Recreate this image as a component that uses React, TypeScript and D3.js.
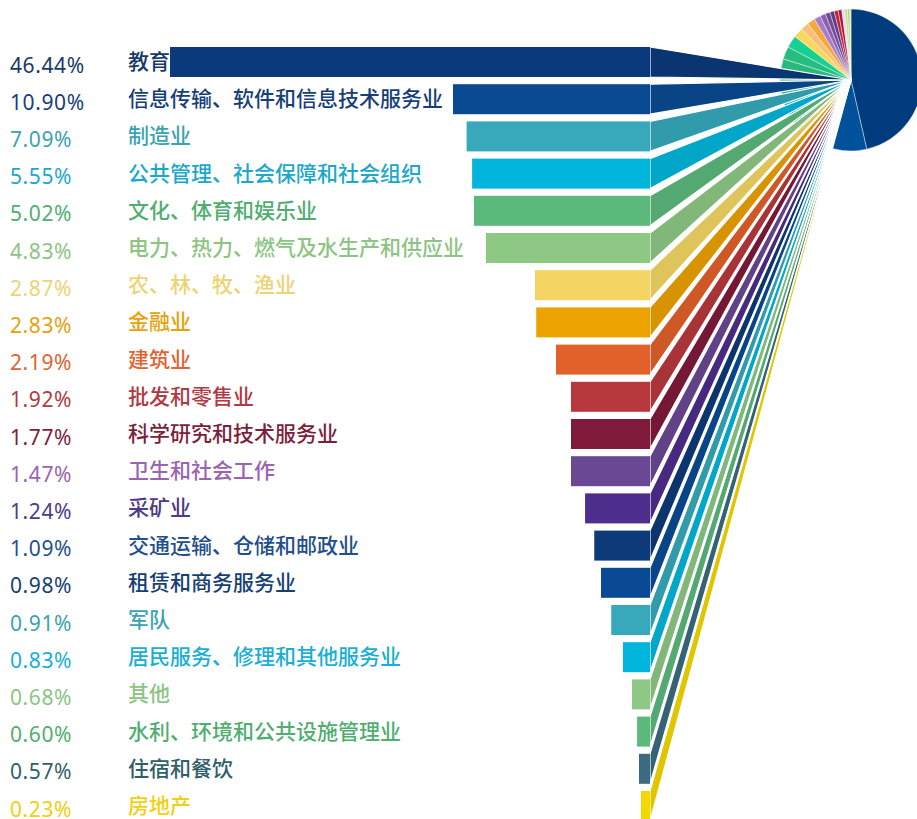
import React, { useEffect, useRef } from 'react';
import * as d3 from 'd3';

const CATEGORIES = [
  '教育', '信息传输、软件和信息技术服务业', '制造业', '公共管理、社会保障和社会组织',
  '文化、体育和娱乐业', '电力、热力、燃气及水生产和供应业', '农、林、牧、渔业', '金融业',
  '建筑业', '批发和零售业', '科学研究和技术服务业', '卫生和社会工作', '采矿业',
  '交通运输、仓储和邮政业', '租赁和商务服务业', '军队', '居民服务、修理和其他服务业',
  '其他', '水利、环境和公共设施管理业', '住宿和餐饮', '房地产',
];

const SHARES = [
  46.44, 10.9, 7.09, 5.55, 5.02, 4.83, 2.87, 2.83, 2.19, 1.92, 1.77,
  1.47, 1.24, 1.09, 0.98, 0.91, 0.83, 0.68, 0.6, 0.57, 0.23,
];

const BAR_COLORS = [
  '#0b3a7c', '#0a4a93', '#37a9bb', '#02b5dc', '#5bb97b', '#8dc985', '#f4d563',
  '#eca200', '#e2612a', '#b8393d', '#7f1a3a', '#6b4894', '#4e2e8c', '#0d3a78',
  '#0a4a94', '#37a9bb', '#02b5dc', '#8dc985', '#5bb97b', '#3a6b80', '#f5d800',
];

const LABEL_COLORS = [
  '#163a6a', '#163f7a', '#3aa3b0', '#1ba8cc', '#4fae70', '#8cc582', '#ecd472',
  '#e6a10c', '#e06331', '#b03a44', '#7c1e3d', '#9c63b0', '#4e3a88', '#1f4f8c',
  '#163f72', '#3aa3b0', '#19aed6', '#8cc582', '#4fae70', '#2f5f6a', '#f0d010',
];

// the small pie uses its own palette
const PIE_COLORS = [
  '#003b7d', '#00519b', '#1f9fb5', '#00aad4', '#27b377', '#2ab97c', '#28bd80',
  '#17d093', '#f8d75e', '#fbc077', '#f6a83a', '#a77ccc', '#8f60ae', '#6e4a98',
  '#5e3d87', '#c32242', '#a8193c', '#e4dce4', '#c4dc98', '#b5d68e', '#e8e070',
];

const W = 917;
const H = 819;

const App: React.FC = () => {
  const svgRef = useRef<SVGSVGElement>(null);

  useEffect(() => {
    if (!svgRef.current) return;
    const svg = d3.select(svgRef.current);
    svg.selectAll('*').remove();

    const rows = CATEGORIES.map((name, i) => ({
      name, value: SHARES[i], color: BAR_COLORS[i], label: LABEL_COLORS[i], pie: PIE_COLORS[i],
    }));

    const barEnd = 650;
    const barH = 30;
    const cx = 851;
    const cy = 80;
    const radius = 71;

    const y = d3.scalePoint<string>().domain(CATEGORIES).range([62, 806]);

    // piecewise scale for the decorative bar lengths
    const len = d3.scaleLinear()
      .domain([0.23, 0.57, 0.68, 0.83, 0.98, 1.47, 1.92, 2.19, 2.87, 4.83, 5.02, 10.9, 46.44])
      .range([9, 11, 18, 27, 49, 79, 79, 94, 115, 164, 176, 197, 480]);

    // pie
    const pie = d3.pie<typeof rows[0]>().value(d => d.value).sort(null);
    const arc = d3.arc<d3.PieArcDatum<typeof rows[0]>>().innerRadius(0).outerRadius(radius);
    svg.append('g')
      .attr('transform', `translate(${cx},${cy})`)
      .selectAll('path')
      .data(pie(rows))
      .join('path')
      .attr('d', arc)
      .attr('fill', d => d.data.pie)
      .attr('stroke', '#ffffff')
      .attr('stroke-width', 0.4);

    // ribbons from bar ends to pie centre
    svg.append('g')
      .selectAll('path')
      .data(rows.slice().reverse())
      .join('path')
      .attr('d', d => {
        const c = y(d.name)!;
        return `M${barEnd},${c - barH / 2}L${cx},${cy}L${barEnd},${c + barH / 2}Z`;
      })
      .attr('fill', d => d3.color(d.color)!.darker(0.25).formatHex())
      .attr('stroke', '#ffffff')
      .attr('stroke-width', 1.2)
      .attr('stroke-linejoin', 'round');

    // bars
    svg.append('g')
      .selectAll('rect')
      .data(rows)
      .join('rect')
      .attr('x', d => barEnd - len(d.value))
      .attr('y', d => y(d.name)! - barH / 2)
      .attr('width', d => len(d.value))
      .attr('height', barH)
      .attr('fill', d => d.color);

    // percent labels
    svg.append('g')
      .selectAll('text')
      .data(rows)
      .join('text')
      .attr('x', 10)
      .attr('y', d => y(d.name)! + 10.5)
      .attr('fill', d => d.label)
      .attr('font-family', '"Noto Sans", sans-serif')
      .attr('font-size', 21)
      .attr('letter-spacing', 0.6)
      .text(d => `${d.value.toFixed(2)}%`);

    // category labels
    svg.append('g')
      .selectAll('text')
      .data(rows)
      .join('text')
      .attr('x', 128)
      .attr('y', d => y(d.name)! + 7)
      .attr('fill', d => d.label)
      .attr('font-family', '"Noto Sans CJK SC", sans-serif')
      .attr('font-size', 21)
      .attr('font-weight', 500)
      .text(d => d.name);
  }, []);

  return (
    <svg
      ref={svgRef}
      width={W}
      height={H}
      viewBox={`0 0 ${W} ${H}`}
      style={{ position: 'absolute', left: 0, top: 0, background: '#ffffff' }}
    />
  );
};

export default App;
